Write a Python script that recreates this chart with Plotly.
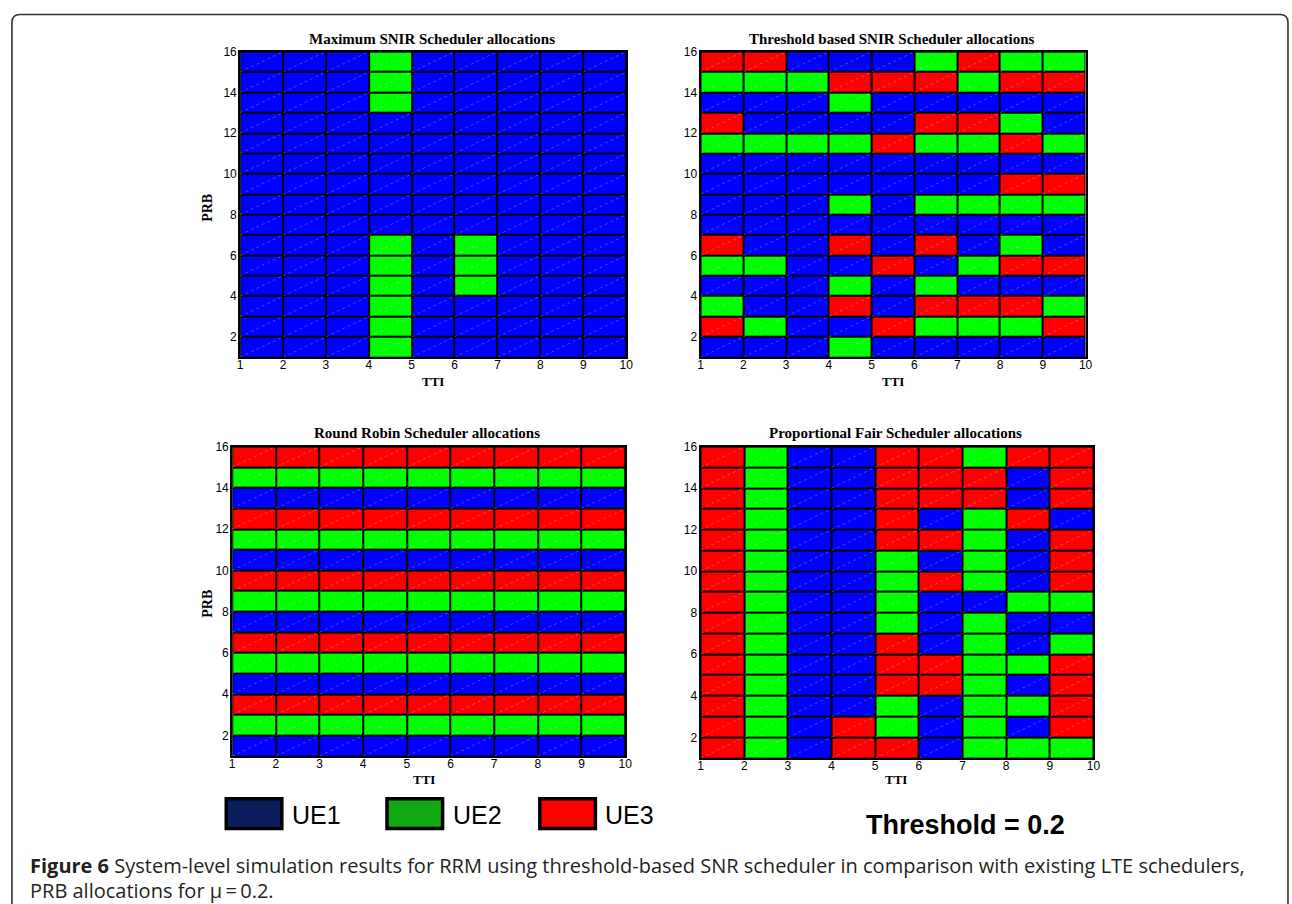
import plotly.graph_objects as go

W, H = 1292, 904

# ---------------- data (1 = UE1, 2 = UE2, 3 = UE3) ----------------
# rows listed from the top PRB row (15-16) down to the bottom row (1-2); 9 TTI columns
tti_ticks = [1, 2, 3, 4, 5, 6, 7, 8, 9, 10]
prb_ticks = [2, 4, 6, 8, 10, 12, 14, 16]

max_snir = [
    [1, 1, 1, 2, 1, 1, 1, 1, 1],
    [1, 1, 1, 2, 1, 1, 1, 1, 1],
    [1, 1, 1, 2, 1, 1, 1, 1, 1],
    [1, 1, 1, 1, 1, 1, 1, 1, 1],
    [1, 1, 1, 1, 1, 1, 1, 1, 1],
    [1, 1, 1, 1, 1, 1, 1, 1, 1],
    [1, 1, 1, 1, 1, 1, 1, 1, 1],
    [1, 1, 1, 1, 1, 1, 1, 1, 1],
    [1, 1, 1, 1, 1, 1, 1, 1, 1],
    [1, 1, 1, 2, 1, 2, 1, 1, 1],
    [1, 1, 1, 2, 1, 2, 1, 1, 1],
    [1, 1, 1, 2, 1, 2, 1, 1, 1],
    [1, 1, 1, 2, 1, 1, 1, 1, 1],
    [1, 1, 1, 2, 1, 1, 1, 1, 1],
    [1, 1, 1, 2, 1, 1, 1, 1, 1],
]

threshold_snir = [
    [3, 3, 1, 1, 1, 2, 3, 2, 2],
    [2, 2, 2, 3, 3, 3, 2, 3, 3],
    [1, 1, 1, 2, 1, 1, 1, 1, 1],
    [3, 1, 1, 1, 1, 3, 3, 2, 1],
    [2, 2, 2, 2, 3, 2, 2, 3, 2],
    [1, 1, 1, 1, 1, 1, 1, 1, 1],
    [1, 1, 1, 1, 1, 1, 1, 3, 3],
    [1, 1, 1, 2, 1, 2, 2, 2, 2],
    [1, 1, 1, 1, 1, 1, 1, 1, 1],
    [3, 1, 1, 3, 1, 3, 1, 2, 1],
    [2, 2, 1, 1, 3, 1, 2, 3, 3],
    [1, 1, 1, 2, 1, 2, 1, 1, 1],
    [2, 1, 1, 3, 1, 3, 3, 3, 2],
    [3, 2, 1, 1, 3, 2, 2, 2, 3],
    [1, 1, 1, 2, 1, 1, 1, 1, 1],
]

round_robin = [
    [3] * 9, [2] * 9, [1] * 9,
    [3] * 9, [2] * 9, [1] * 9,
    [3] * 9, [2] * 9, [1] * 9,
    [3] * 9, [2] * 9, [1] * 9,
    [3] * 9, [2] * 9, [1] * 9,
]

prop_fair = [
    [3, 2, 1, 1, 3, 3, 2, 3, 3],
    [3, 2, 1, 1, 3, 3, 3, 1, 3],
    [3, 2, 1, 1, 3, 3, 3, 1, 3],
    [3, 2, 1, 1, 3, 1, 2, 3, 1],
    [3, 2, 1, 1, 3, 3, 2, 1, 3],
    [3, 2, 1, 1, 2, 1, 2, 1, 3],
    [3, 2, 1, 1, 2, 3, 2, 1, 3],
    [3, 2, 1, 1, 2, 1, 1, 2, 2],
    [3, 2, 1, 1, 2, 1, 2, 1, 1],
    [3, 2, 1, 1, 3, 1, 2, 1, 2],
    [3, 2, 1, 1, 3, 3, 2, 2, 3],
    [3, 2, 1, 1, 3, 3, 2, 1, 3],
    [3, 2, 1, 1, 2, 1, 2, 2, 3],
    [3, 2, 1, 3, 2, 1, 2, 1, 3],
    [3, 2, 1, 3, 3, 1, 2, 2, 2],
]

titles = [
    "Maximum SNIR Scheduler allocations",
    "Threshold based SNIR Scheduler allocations",
    "Round Robin Scheduler allocations",
    "Proportional Fair Scheduler allocations",
]
ue_labels = ["UE1", "UE2", "UE3"]
ue_legend_colors = ["#0b1f5e", "#12a812", "#ff0000"]
cell_colors = ["#0000ff", "#00ff00", "#ff0000"]
threshold_text = "Threshold = 0.2"
caption_bold = "Figure 6"
caption_line1 = " System-level simulation results for RRM using threshold-based SNR scheduler in comparison with existing LTE schedulers,"
caption_line2 = "PRB allocations for \u03bc\u2009=\u20090.2."

# ---------------- layout helpers (pixel -> paper) ----------------
def X(px):
    return px / W

def Y(py):
    return 1 - py / H

panels = [
    # (matrix, left, right, top, bottom) in pixels
    (max_snir, 239, 628, 45, 353),
    (threshold_snir, 703, 1091, 45, 353),
    (round_robin, 231, 627, 443, 755),
    (prop_fair, 703, 1099, 443, 757),
]

colorscale = [
    [0.0, cell_colors[0]], [0.25, cell_colors[0]],
    [0.25, cell_colors[1]], [0.75, cell_colors[1]],
    [0.75, cell_colors[2]], [1.0, cell_colors[2]],
]

fig = go.Figure()
layout = {}
for k, (mat, l, r, t, b) in enumerate(panels):
    n = "" if k == 0 else str(k + 1)
    z = list(reversed(mat))  # bottom row first
    nrows, ncols = len(z), len(z[0])
    xe = tti_ticks[: ncols + 1]
    ye = list(range(1, nrows + 2))
    fig.add_trace(go.Heatmap(
        z=z, x=xe, y=ye, zmin=1, zmax=3, colorscale=colorscale,
        showscale=False, xgap=2, ygap=2, hoverinfo="skip",
        xaxis="x" + n, yaxis="y" + n,
    ))
    # diagonal hatch line in every cell (bottom-left to top-right)
    dx, dy = [], []
    for i in range(nrows):
        for j in range(ncols):
            dx += [xe[j], xe[j + 1], None]
            dy += [ye[i], ye[i + 1], None]
    fig.add_trace(go.Scatter(
        x=dx, y=dy, mode="lines", hoverinfo="skip", showlegend=False,
        line=dict(color="rgba(255,255,255,0.45)", width=0.6, dash="dot"),
        xaxis="x" + n, yaxis="y" + n,
    ))
    layout["xaxis" + n] = dict(
        domain=[X(l), X(r)], anchor="y" + n, range=[1, 10],
        tickvals=tti_ticks, ticks="", showgrid=False, zeroline=False,
        showline=True, linecolor="black", linewidth=2, mirror=True,
        ticklabelstandoff=-5,
        tickfont=dict(family="Liberation Sans", size=12, color="black"),
    )
    layout["yaxis" + n] = dict(
        domain=[Y(b), Y(t)], anchor="x" + n, range=[1, 16],
        tickvals=prb_ticks, ticks="", showgrid=False, zeroline=False,
        showline=True, linecolor="black", linewidth=2, mirror=True,
        ticklabelstandoff=-1,
        tickfont=dict(family="Liberation Sans", size=12, color="black"),
    )

ann = []
serif = "Liberation Serif"
title_pos = [(432, 32), (896, 32), (427, 429), (899, 429)]
for (tx, ty), title in zip(title_pos, titles):
    ann.append(dict(x=X(tx), y=Y(ty), xref="paper", yref="paper", showarrow=False,
                    text="<b>" + title + "</b>", xanchor="center", yanchor="middle",
                    font=dict(family=serif, size=15, color="black")))
for (tx, ty) in [(433, 377), (897, 377), (424, 779), (900, 779)]:
    ann.append(dict(x=X(tx), y=Y(ty), xref="paper", yref="paper", showarrow=False,
                    text="<b>TTI</b>", xanchor="center", yanchor="middle",
                    font=dict(family=serif, size=13, color="black")))
for (tx, ty) in [(206, 202), (206, 601)]:
    ann.append(dict(x=X(tx), y=Y(ty), xref="paper", yref="paper", showarrow=False,
                    text="<b>PRB</b>", textangle=-90, xanchor="center", yanchor="middle",
                    font=dict(family=serif, size=14, color="black")))

shapes = []
box_x = [225, 387, 541]
for bx, lab, col in zip(box_x, ue_labels, ue_legend_colors):
    shapes.append(dict(type="rect", xref="paper", yref="paper",
                       x0=X(bx), x1=X(bx + 56), y0=Y(828), y1=Y(798),
                       fillcolor=col, line=dict(color="black", width=3.5)))
    ann.append(dict(x=X(bx + 64), y=Y(814), xref="paper", yref="paper", showarrow=False,
                    text=lab, xanchor="left", yanchor="middle",
                    font=dict(family="Liberation Sans", size=25, color="black")))

ann.append(dict(x=X(970), y=Y(824), xref="paper", yref="paper", showarrow=False,
                text="<b>" + threshold_text + "</b>", xanchor="center", yanchor="middle",
                font=dict(family="Liberation Sans", size=27, color="black")))

ann.append(dict(x=X(25), y=Y(865), xref="paper", yref="paper", showarrow=False,
                text="<b>" + caption_bold + "</b>" + caption_line1, xanchor="left", yanchor="middle",
                font=dict(family="Open Sans", size=20, color="#231f20")))
ann.append(dict(x=X(25), y=Y(890), xref="paper", yref="paper", showarrow=False,
                text=caption_line2, xanchor="left", yanchor="middle",
                font=dict(family="Open Sans", size=20, color="#231f20")))

# rounded outer frame (right side runs just past the page edge)
r = 8
xl, xr, yt, yb = 9, 1295, 7.5, 920
path = (f"M {X(xl)},{Y(yb)} L {X(xl)},{Y(yt + r)} "
        f"Q {X(xl)},{Y(yt)} {X(xl + r)},{Y(yt)} "
        f"L {X(xr - r)},{Y(yt)} Q {X(xr)},{Y(yt)} {X(xr)},{Y(yt + r)} "
        f"L {X(xr)},{Y(yb)}")
shapes.append(dict(type="path", xref="paper", yref="paper", path=path,
                   line=dict(color="#333333", width=1.6)))

fig.update_layout(
    width=W, height=H, margin=dict(l=0, r=0, t=0, b=0),
    paper_bgcolor="white", plot_bgcolor="black", showlegend=False,
    annotations=ann, shapes=shapes, **layout,
)
fig.write_html(
    "out.html",
    config={"displayModeBar": False},
    post_script="document.body.style.margin='0';document.body.style.overflow='hidden';",
)
